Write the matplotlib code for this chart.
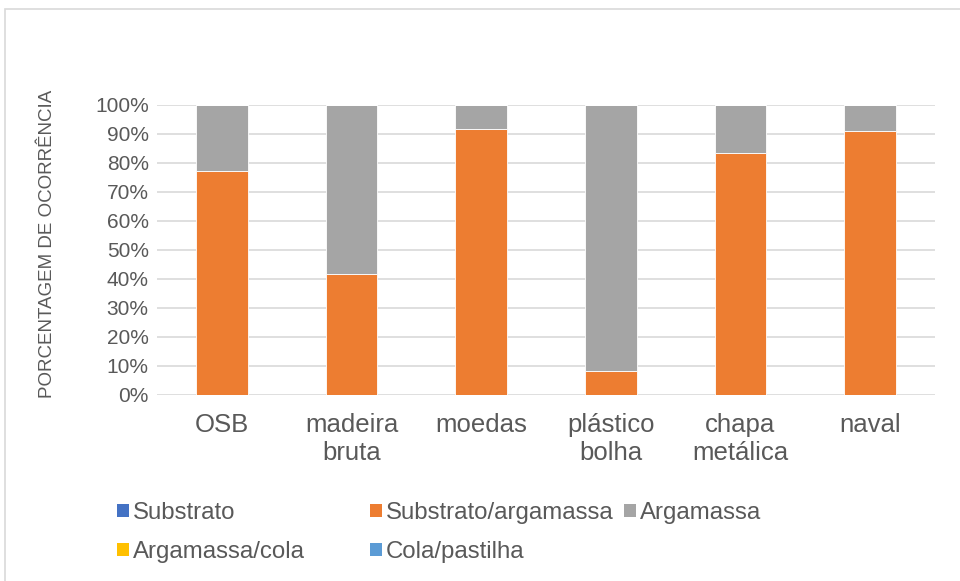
import matplotlib.pyplot as plt
from matplotlib.patches import Rectangle, Patch
from matplotlib.ticker import PercentFormatter

plt.rcParams['font.family'] = ['Liberation Sans', 'DejaVu Sans']

categories = ['OSB', 'madeira\nbruta', 'moedas', 'plástico\nbolha', 'chapa\nmetálica', 'naval']
substrato = [0.0, 0.0, 0.0, 0.0, 0.0, 0.0]
substrato_argamassa = [0.77, 0.417, 0.917, 0.083, 0.833, 0.91]
argamassa = [0.23, 0.583, 0.083, 0.917, 0.167, 0.09]
argamassa_cola = [0.0, 0.0, 0.0, 0.0, 0.0, 0.0]
cola_pastilha = [0.0, 0.0, 0.0, 0.0, 0.0, 0.0]

series = [
    ('Substrato', substrato, '#4472c4'),
    ('Substrato/argamassa', substrato_argamassa, '#ed7d31'),
    ('Argamassa', argamassa, '#a5a5a5'),
    ('Argamassa/cola', argamassa_cola, '#ffc000'),
    ('Cola/pastilha', cola_pastilha, '#5b9bd5'),
]

TXT = '#595959'
GRID = '#d9d9d9'
W, H = 960, 581

fig = plt.figure(figsize=(W / 100, H / 100), dpi=100)
ax = fig.add_axes([157 / W, 1 - 395 / H, (935 - 157) / W, (395 - 104.7) / H])

x = list(range(len(categories)))
bottom = [0.0] * len(categories)
for name, vals, color in series:
    ax.bar(x, vals, width=0.4, bottom=bottom, color=color,
           edgecolor='white', linewidth=0.6, zorder=3)
    bottom = [b + v for b, v in zip(bottom, vals)]

ax.set_xlim(-0.5, len(categories) - 0.5)
ax.set_ylim(0, 1)
ax.set_yticks([i / 10 for i in range(11)])
ax.yaxis.set_major_formatter(PercentFormatter(1.0, decimals=0))
ax.grid(axis='y', color=GRID, linewidth=1.2, zorder=0)
for s in ax.spines.values():
    s.set_visible(False)
ax.tick_params(axis='both', length=0, colors=TXT)
ax.tick_params(axis='y', labelsize=15, pad=6)
ax.set_xticks(x)
ax.set_xticklabels(categories, fontsize=18.5, linespacing=1.2)
ax.tick_params(axis='x', pad=13)
ax.set_ylabel('PORCENTAGEM DE OCORRÊNCIA', fontsize=13.5, color=TXT)
ax.yaxis.set_label_coords(-0.13, 0.52)

# chart frame
fig.patches.append(Rectangle((4.5 / W, -0.05), 1.1, 1 - 8.5 / H + 0.05,
                             transform=fig.transFigure, fill=False,
                             edgecolor=GRID, linewidth=1.2))

# legend entries placed individually
legend_pos = [(117, 513), (370, 513), (624, 513), (117, 552), (370, 552)]
for (name, vals, color), (lx, ly) in zip(series, legend_pos):
    fig.legend(handles=[Patch(facecolor=color, edgecolor='none')], labels=[name],
               loc='center left', bbox_to_anchor=(lx / W, 1 - ly / H),
               frameon=False, fontsize=17.3, labelcolor=TXT,
               handlelength=0.5, handleheight=0.5, handletextpad=0.15,
               borderpad=0, borderaxespad=0)

fig.savefig('out.png', dpi=100)
